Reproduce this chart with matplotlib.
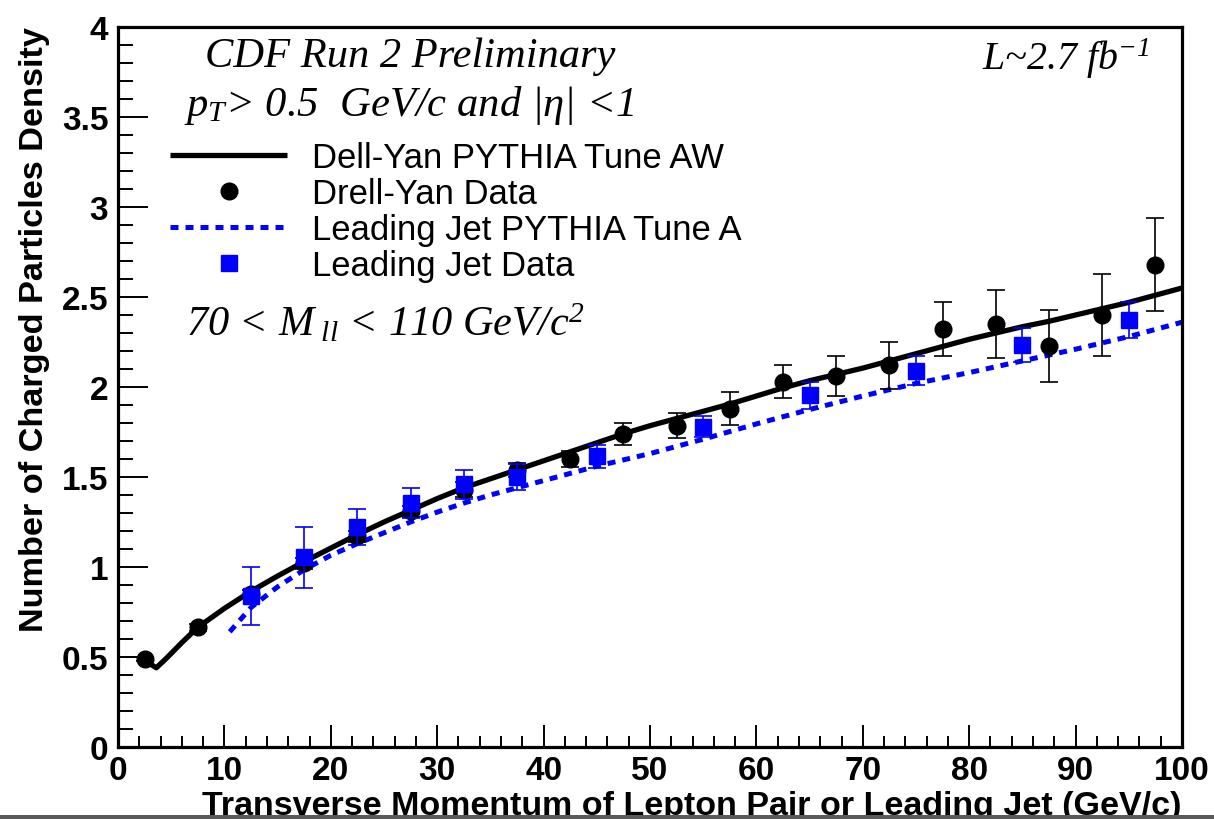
import matplotlib
matplotlib.use('Agg')
import matplotlib.pyplot as plt
from matplotlib.patches import Rectangle
from matplotlib.ticker import MultipleLocator

plt.rcParams['mathtext.fontset'] = 'custom'
plt.rcParams['mathtext.rm'] = 'Liberation Serif:italic'
plt.rcParams['mathtext.it'] = 'Liberation Serif:italic'
plt.rcParams['mathtext.bf'] = 'Liberation Serif:italic:bold'
plt.rcParams['font.family'] = ['Liberation Sans', 'DejaVu Sans']

# ---------------- data ----------------
# Drell-Yan PYTHIA Tune AW curve
dy_curve_x = [2.8, 3.6, 4.5, 6.0, 7.5, 10, 12.5, 15, 17.5, 20, 22.5, 25, 27.5, 30, 32.5,
              35, 37.5, 40, 42.5, 45, 47.5, 50, 52.5, 55, 57.5, 60, 62.5, 65, 67.5, 70,
              72.5, 75, 77.5, 80, 82.5, 85, 87.5, 90, 92.5, 95, 97.5, 100]
dy_curve_y = [0.47, 0.44, 0.49, 0.58, 0.665, 0.77, 0.865, 0.95, 1.03, 1.105, 1.18, 1.25, 1.315, 1.38, 1.44,
              1.49, 1.54, 1.59, 1.64, 1.69, 1.74, 1.785, 1.825, 1.865, 1.905, 1.95, 1.995, 2.035, 2.07, 2.105,
              2.145, 2.185, 2.225, 2.265, 2.30, 2.335, 2.365, 2.40, 2.435, 2.47, 2.51, 2.55]

# Drell-Yan data
dy_x = [2.5, 7.5, 12.5, 17.5, 22.5, 27.5, 32.5, 37.5, 42.5, 47.5,
        52.5, 57.5, 62.5, 67.5, 72.5, 77.5, 82.5, 87.5, 92.5, 97.5]
dy_y = [0.49, 0.665, 0.85, 1.02, 1.17, 1.31, 1.43, 1.54, 1.60, 1.74,
        1.785, 1.88, 2.03, 2.06, 2.12, 2.32, 2.35, 2.23, 2.40, 2.68]
dy_err = [0.01, 0.02, 0.02, 0.03, 0.03, 0.03, 0.04, 0.04, 0.045, 0.06,
          0.07, 0.09, 0.09, 0.11, 0.13, 0.15, 0.19, 0.20, 0.23, 0.26]

# Leading Jet PYTHIA Tune A curve
lj_curve_x = [10.5, 12.5, 15, 17.5, 20, 22.5, 25, 27.5, 30, 32.5, 35, 37.5, 40, 42.5,
              45, 47.5, 50, 52.5, 55, 60, 65, 70, 75, 80, 85, 90, 95, 100]
lj_curve_y = [0.64, 0.775, 0.89, 0.985, 1.065, 1.13, 1.19, 1.25, 1.305, 1.355, 1.40, 1.44, 1.48, 1.52,
              1.56, 1.595, 1.63, 1.67, 1.71, 1.795, 1.875, 1.95, 2.02, 2.08, 2.145, 2.21, 2.28, 2.36]

# Leading Jet data
lj_x = [12.5, 17.5, 22.5, 27.5, 32.5, 37.5, 45, 55, 65, 75, 85, 95]
lj_y = [0.84, 1.055, 1.22, 1.355, 1.46, 1.50, 1.615, 1.78, 1.955, 2.09, 2.235, 2.37]
lj_err = [0.16, 0.17, 0.10, 0.085, 0.08, 0.07, 0.065, 0.06, 0.075, 0.08, 0.095, 0.10]

xticks = [0, 10, 20, 30, 40, 50, 60, 70, 80, 90, 100]
xtick_labels = ['0', '10', '20', '30', '40', '50', '60', '70', '80', '90', '100']
yticks = [0, 0.5, 1, 1.5, 2, 2.5, 3, 3.5, 4]
ytick_labels = ['0', '0.5', '1', '1.5', '2', '2.5', '3', '3.5', '4']

labels = ['Dell-Yan PYTHIA Tune AW', 'Drell-Yan Data',
          'Leading Jet PYTHIA Tune A', 'Leading Jet Data']

# ---------------- figure ----------------
W, H = 1214, 820
fig = plt.figure(figsize=(W / 100, H / 100), dpi=100)
fig.patch.set_facecolor('white')
ax = fig.add_axes([118 / W, 72 / H, 1064 / W, 720 / H])
renderer = fig.canvas.get_renderer()


def fit(t, target_px, vertical=False):
    bb = t.get_window_extent(renderer)
    w = bb.height if vertical else bb.width
    t.set_fontsize(t.get_fontsize() * target_px / w)


ax.plot(dy_curve_x, dy_curve_y, color='black', lw=3.8, solid_joinstyle='round',
        solid_capstyle='butt', label=labels[0], zorder=2)
ax.errorbar(dy_x, dy_y, yerr=dy_err, fmt='none', ecolor='black', elinewidth=1.2,
            capsize=6.5, capthick=1.2, zorder=3)
ax.plot(dy_x, dy_y, 'o', color='black', ms=12, label=labels[1], zorder=4)
ax.plot(lj_curve_x, lj_curve_y, color='blue', lw=3.6, dashes=(1.6, 1.4),
        dash_capstyle='butt', label=labels[2], zorder=2)
ax.errorbar(lj_x, lj_y, yerr=lj_err, fmt='none', ecolor='blue', elinewidth=1.2,
            capsize=6.5, capthick=1.2, zorder=5)
ax.plot(lj_x, lj_y, 's', color='blue', ms=11, label=labels[3], zorder=6)

ax.set_xlim(0, 100)
ax.set_ylim(0, 4)
ax.set_xticks(xticks, xtick_labels, fontweight='bold', fontsize=24)
ax.set_yticks(yticks, ytick_labels, fontweight='bold', fontsize=24)
ax.xaxis.set_minor_locator(MultipleLocator(2))
ax.yaxis.set_minor_locator(MultipleLocator(0.1))
ax.tick_params(axis='x', which='major', direction='in', length=15.8, width=1.4, pad=6,
               top=False, bottom=True)
ax.tick_params(axis='x', which='minor', direction='in', length=8, width=1.4,
               top=False, bottom=True)
ax.tick_params(axis='y', which='major', direction='in', length=21.6, width=1.4, pad=7,
               right=False, left=True)
ax.tick_params(axis='y', which='minor', direction='in', length=10.8, width=1.4,
               right=False, left=True)
for s in ax.spines.values():
    s.set_linewidth(2.3)

# legend font size fitted to reference text width
tmp = fig.text(0, 0, labels[0], fontsize=20)
fit(tmp, 411)
lfs = tmp.get_fontsize()
tmp.remove()
fs_px = lfs * 100 / 72
leg = ax.legend(loc='upper left', bbox_to_anchor=((170 - 118) / 1064, (748 - 142) / 720),
                frameon=False, fontsize=lfs, handlelength=117 / fs_px,
                handletextpad=25 / fs_px, borderpad=0, borderaxespad=0,
                labelspacing=0.085, handleheight=0.7)

# italic serif annotations
ser = dict(family='Liberation Serif', style='italic', ha='left', va='baseline', fontsize=30)
t1 = fig.text(205 / W, 1 - 67 / H, 'CDF Run 2 Preliminary', **ser)
fit(t1, 410)
t2 = fig.text(184 / W, 1 - 116 / H, r'$p_{T}$> 0.5  GeV/c and |$\eta$| <1', **ser)
fit(t2, 450)
t3 = fig.text(186 / W, 1 - 336 / H, r'70 < M$_{\ ll}$ < 110 GeV/c$^{2}$', **ser)
fit(t3, 398)
t4 = fig.text(982 / W, 1 - 70 / H, r'L~2.7 fb$^{-1}$', **ser)
fit(t4, 167)

# axis titles (ROOT-style, right aligned)
yl = fig.text(43 / W, 1 - 27 / H, 'Number of Charged Particles Density', rotation=90,
              rotation_mode='anchor', ha='right', va='baseline', fontweight='bold', fontsize=22)
fit(yl, 605, vertical=True)
xl = fig.text(1182 / W, 0.0, 'Transverse Momentum of Lepton Pair or Leading Jet (GeV/c)',
              ha='right', va='baseline', fontweight='bold', fontsize=24)
fit(xl, 980)
base_px = 792 + 0.688 * xl.get_fontsize() * 100 / 72
xl.set_y(1 - base_px / H)

fig.add_artist(Rectangle((0, 0), 1, 4 / H, transform=fig.transFigure,
                         facecolor='#5a5a5a', edgecolor='none', zorder=10))

fig.savefig('out.png', dpi=100, facecolor='white')
